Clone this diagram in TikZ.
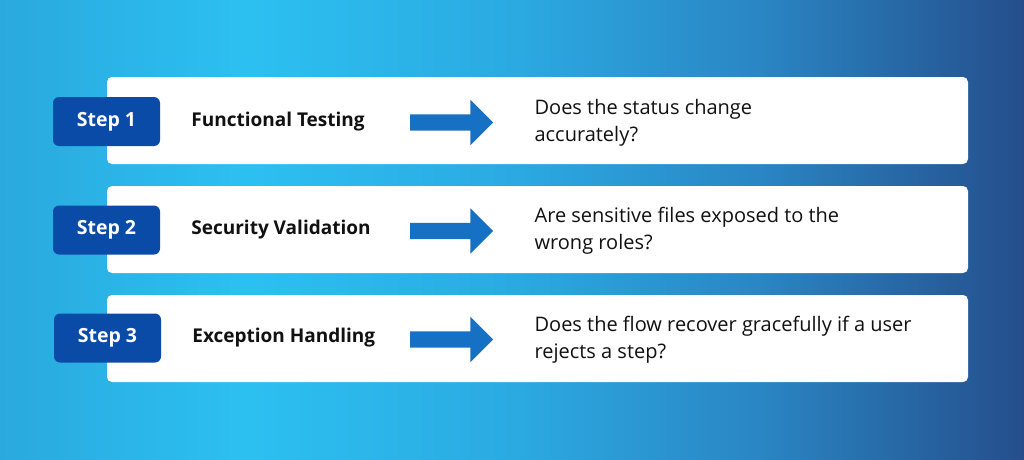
\documentclass[tikz,border=0pt]{standalone}
\usepackage{fontspec}
\setmainfont{Open Sans}
\usetikzlibrary{positioning,shapes.arrows}
\definecolor{StepBlue}{HTML}{0B4BA8}
\definecolor{ArrowBlue}{HTML}{1671C5}
\definecolor{InkBlack}{HTML}{111111}
\definecolor{SkyA}{HTML}{2AA9DE}
\definecolor{SkyB}{HTML}{2CC0F1}
\definecolor{SkyC}{HTML}{2BAAE2}
\definecolor{SkyD}{HTML}{2A86C4}
\definecolor{SkyE}{HTML}{254E8C}
\pgfdeclarehorizontalshading{skyshade}{100bp}{color(0bp)=(SkyA);
  color(25bp)=(SkyA); color(37bp)=(SkyB); color(50bp)=(SkyC); color(62bp)=(SkyD);
  color(75bp)=(SkyE); color(100bp)=(SkyE)}

\begin{document}
\begin{tikzpicture}[x=1pt,y=-1pt,node distance=31pt,
  card/.style={fill=white,rounded corners=5pt,minimum width=861pt,minimum height=87pt,inner sep=0pt},
  stepbox/.style={fill=StepBlue,rounded corners=6pt,minimum width=107pt,minimum height=49pt,
    inner sep=0pt,text=white,font=\bfseries\fontsize{19.5}{19.5}\selectfont},
  title/.style={inner sep=0pt,text=InkBlack,font=\bfseries\fontsize{19}{19}\selectfont},
  flow/.style={single arrow,fill=ArrowBlue,inner xsep=0pt,inner ysep=8pt,minimum height=83pt,
    minimum width=45pt,single arrow head extend=14.5pt,single arrow head indent=0pt},
  question/.style={inner sep=0pt,align=left,text=InkBlack,font=\fontsize{20}{27}\selectfont}]
  \useasboundingbox (0,0) rectangle (1024,459);
  \shade[shading=skyshade] (0,0) rectangle (1024,459);

  % row 1
  \node[card] (card1) at (537.5,120.5) {};
  \node[stepbox] (step1) at (106.5,121.5) {Step 1};
  \node[title,right=of step1] (title1) {Functional Testing};
  \node[flow] (flow1) at (447.5,122.5) {};
  \node[question,right=41pt of flow1] (ask1) {Does the status change\\accurately?};

  % row 2
  \node[card] (card2) at (537.5,229.5) {};
  \node[stepbox] (step2) at (106.5,230) {Step 2};
  \node[title,right=of step2] (title2) {Security Validation};
  \node[flow] (flow2) at (447.5,231) {};
  \node[question,right=41pt of flow2] (ask2) {Are sensitive files exposed to the\\wrong roles?};

  % row 3
  \node[card] (card3) at (537.5,338.5) {};
  \node[stepbox] (step3) at (107.5,338) {Step 3};
  \node[title,right=of step3] (title3) {Exception Handling};
  \node[flow] (flow3) at (447.5,339.5) {};
  \node[question,right=41pt of flow3] (ask3) {Does the flow recover gracefully if a user\\rejects a step?};
\end{tikzpicture}
\end{document}
